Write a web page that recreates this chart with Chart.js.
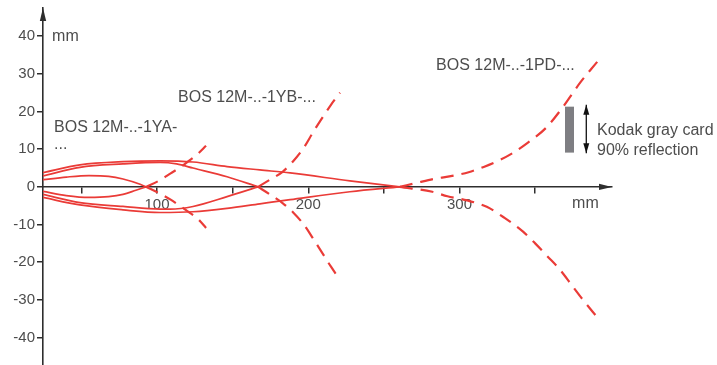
<!DOCTYPE html>
<html>
<head>
<meta charset="utf-8">
<script src="https://cdn.jsdelivr.net/npm/chart.js@4"></script>
<style>
  html, body { margin: 0; padding: 0; background: #fff; }
  #wrap { position: relative; width: 717px; height: 365px; }
</style>
</head>
<body>
<div id="wrap"><canvas id="rangeChart"></canvas></div>
<script>
// axis ticks
const xTicks = [50, 100, 150, 200, 250, 300, 350];
const xTickLabels = ['', '100', '', '200', '', '300', ''];
const yTicks = [-40, -30, -20, -10, 0, 10, 20, 30, 40];

// solid detection lobes, [distance mm, offset mm]
const lobeYAUpper = [[24.6, 1.9], [40, 2.6], [55, 3.0], [68, 2.8], [77.5, 2.1], [88.8, 0.7], [92.7, 0]];
const lobeYALower = [[24.6, -1.2], [40, -2.3], [55, -2.8], [68, -2.6], [77.5, -2.0], [86, -0.9], [92.7, 0]];
const lobeYBUpper = [[24.6, 2.9], [49, 5.2], [77.5, 6.1], [102, 6.5], [113, 6.1], [123.8, 5.0], [146.3, 2.7], [166.8, 0]];
const lobeYBLower = [[24.6, -2.0], [49, -4.2], [77.5, -5.2], [102, -5.9], [108.6, -5.9], [123.8, -5.2], [146.3, -2.6], [166.8, 0]];
const lobePDUpper = [[24.6, 3.8], [49, 5.85], [77.5, 6.7], [102, 6.9], [123.8, 6.6], [146.3, 5.4], [168, 4.5], [188, 3.7], [227.5, 1.6], [260.5, 0]];
const lobePDLower = [[24.6, -2.8], [49, -4.8], [77.5, -6.1], [102, -6.8], [123.8, -6.6], [146.3, -5.7], [168, -4.5], [188, -3.4], [227.5, -1.3], [260.5, 0]];

// dashed fans behind the switching point
const fanYAUpper = [[92.7, 0], [102, 1.8], [109, 3.6], [115, 5.1], [121, 6.9], [127, 8.8], [132.4, 10.9]];
const fanYALower = [[92.7, 0], [102, -1.8], [109, -3.4], [115, -5.0], [121, -6.7], [127, -8.5], [132.4, -10.9]];
const fanYBUpper = [[166.8, 0], [175, 2.0], [183, 4.0], [190, 6.8], [197, 10.4], [203, 14.4], [209, 18.2], [215, 21.8], [221, 25]];
const fanYBLower = [[166.8, 0], [175, -2.1], [183, -4.3], [190, -6.8], [197, -10.0], [203, -13.6], [209, -17.4], [215, -21.2], [221, -24.7]];
const fanPDUpper = [[260.5, 0], [274, 1.3], [283, 2.1], [296, 3.0], [306, 3.9], [316, 5.3], [327, 7.2], [336, 9.2], [345, 11.7], [357, 15.6], [368, 21.0], [380, 27.8], [391, 33.2]];
const fanPDLower = [[260.5, 0], [282, -1.3], [292, -2.5], [305, -3.6], [318, -5.3], [330, -8.3], [342, -11.9], [350, -15.0], [358, -18.4], [366, -21.8], [374, -26.0], [382, -30.2], [391, -34.6]];

// gray card and its movement arrow
const grayCard = [[372.7, 9.1], [372.7, 21.3]];
const cardArrow = [[383.8, 8.95], [383.8, 21.8]];

const red = '#ea3b37';
const axisColor = '#2e2e2e';
const textColor = '#4d4d4d';
const fontFamily = '"Liberation Sans", Arial, sans-serif';

const toPoints = arr => arr.map(([x, y]) => ({ x, y }));

const solid = data => ({
  data: toPoints(data),
  borderColor: red,
  borderWidth: 1.7,
  pointRadius: 0,
  cubicInterpolationMode: 'monotone'
});

const dashed = data => ({
  data: toPoints(data),
  borderColor: red,
  borderWidth: 2.2,
  borderDash: [13, 8],
  pointRadius: 0,
  cubicInterpolationMode: 'monotone'
});

const notes = [
  { text: 'BOS 12M-..-1YA-', x: 31.9, y: 15.7 },
  { text: '...', x: 31.9, y: 11.1 },
  { text: 'BOS 12M-..-1YB-...', x: 113.9, y: 23.8 },
  { text: 'BOS 12M-..-1PD-...', x: 284.5, y: 32.1 },
  { text: 'Kodak gray card', x: 390.9, y: 14.9 },
  { text: '90% reflection', x: 390.9, y: 9.6 },
  { text: 'mm', x: 30.6, y: 39.8 },
  { text: 'mm', x: 374.4, y: -4.5 }
];

const decorations = {
  id: 'decorations',
  afterDraw(chart) {
    const { ctx, chartArea, scales: { x, y } } = chart;
    ctx.save();
    ctx.fillStyle = axisColor;

    // axis arrow heads
    const y0 = y.getPixelForValue(0);
    ctx.beginPath();
    ctx.moveTo(chartArea.right, y0);
    ctx.lineTo(chartArea.right - 13, y0 - 3.2);
    ctx.lineTo(chartArea.right - 13, y0 + 3.2);
    ctx.closePath();
    ctx.fill();

    const xl = chartArea.left;
    ctx.beginPath();
    ctx.moveTo(xl, chartArea.top);
    ctx.lineTo(xl - 3.2, chartArea.top + 13);
    ctx.lineTo(xl + 3.2, chartArea.top + 13);
    ctx.closePath();
    ctx.fill();

    // double arrow next to the gray card
    const pts = chart.getDatasetMeta(chart.data.datasets.length - 1).data;
    const bottom = pts[0], top = pts[pts.length - 1];
    ctx.fillStyle = '#111';
    ctx.beginPath();
    ctx.moveTo(top.x, top.y);
    ctx.lineTo(top.x - 3, top.y + 10);
    ctx.lineTo(top.x + 3, top.y + 10);
    ctx.closePath();
    ctx.fill();
    ctx.beginPath();
    ctx.moveTo(bottom.x, bottom.y);
    ctx.lineTo(bottom.x - 3, bottom.y - 10);
    ctx.lineTo(bottom.x + 3, bottom.y - 10);
    ctx.closePath();
    ctx.fill();

    // labels
    ctx.fillStyle = textColor;
    ctx.font = '16px ' + fontFamily;
    ctx.textAlign = 'left';
    ctx.textBaseline = 'middle';
    notes.forEach(n => {
      ctx.fillText(n.text, x.getPixelForValue(n.x), y.getPixelForValue(n.y));
    });
    ctx.restore();
  }
};

new Chart(document.getElementById('rangeChart'), {
  type: 'line',
  data: {
    datasets: [
      solid(lobeYAUpper), solid(lobeYALower),
      solid(lobeYBUpper), solid(lobeYBLower),
      solid(lobePDUpper), solid(lobePDLower),
      dashed(fanYAUpper), dashed(fanYALower),
      dashed(fanYBUpper), dashed(fanYBLower),
      dashed(fanPDUpper), dashed(fanPDLower),
      {
        data: toPoints(grayCard),
        borderColor: '#7e7e82',
        borderWidth: 9,
        borderCapStyle: 'butt',
        pointRadius: 0
      },
      {
        data: toPoints(cardArrow),
        borderColor: '#111',
        borderWidth: 1.3,
        pointRadius: 0,
        clip: false
      }
    ]
  },
  options: {
    responsive: true,
    maintainAspectRatio: false,
    animation: false,
    layout: { padding: { top: 8, right: 105, bottom: 0, left: 0 } },
    plugins: {
      legend: { display: false },
      tooltip: { enabled: false }
    },
    scales: {
      x: {
        type: 'linear',
        position: { y: 0 },
        min: 24.6,
        max: 400.8,
        afterBuildTicks: s => { s.ticks = xTicks.map(v => ({ value: v })); },
        afterFit: s => { s.paddingLeft = 0; s.paddingRight = 0; },
        ticks: {
          autoSkip: false,
          maxRotation: 0,
          padding: 3,
          color: textColor,
          font: { family: fontFamily, size: 15 },
          callback: (v, i) => xTickLabels[i]
        },
        grid: { drawOnChartArea: false, tickLength: 6, tickColor: axisColor, lineWidth: 1.5 },
        border: { color: axisColor, width: 1.6 }
      },
      y: {
        type: 'linear',
        position: 'left',
        min: -47.3,
        max: 47.5,
        afterBuildTicks: s => { s.ticks = yTicks.map(v => ({ value: v })); },
        afterFit: s => { s.width = 43; s.paddingTop = 0; s.paddingBottom = 0; },
        ticks: {
          autoSkip: false,
          padding: 2,
          color: textColor,
          font: { family: fontFamily, size: 15 },
          callback: v => String(v)
        },
        grid: { drawOnChartArea: false, tickLength: 6, tickColor: axisColor, lineWidth: 1.5 },
        border: { color: axisColor, width: 1.6 }
      }
    }
  },
  plugins: [decorations]
});
</script>
</body>
</html>
